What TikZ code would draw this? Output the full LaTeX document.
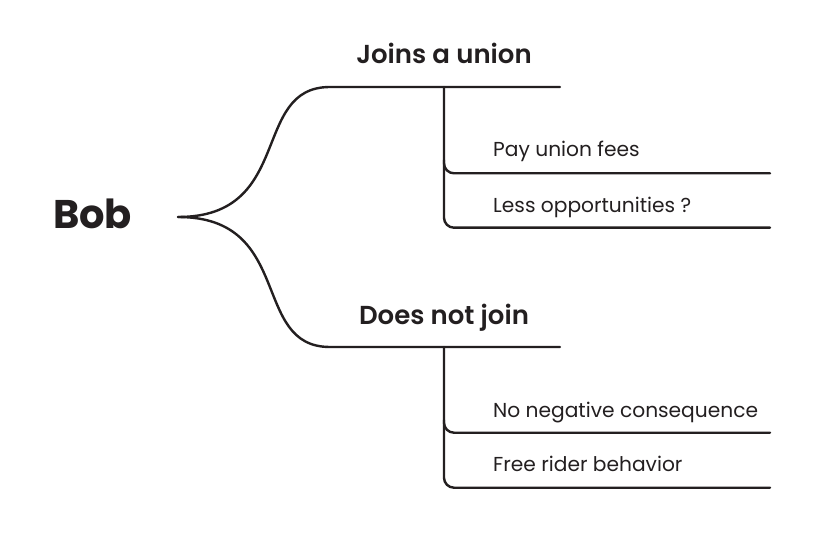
\documentclass[tikz,border=0pt]{standalone}
\usepackage{fontspec}
\setmainfont{Poppins}
\newfontfamily\headfont{Poppins SemiBold}
\begin{document}
\begin{tikzpicture}[x=1pt,y=-1pt,
  wire/.style={draw=ink,line width=2.4pt,line cap=round,line join=round},
  rootlabel/.style={font=\bfseries\fontsize{40}{43}\selectfont,text=ink,inner sep=0pt,anchor=base},
  branchlabel/.style={font=\headfont\fontsize{26}{29}\selectfont,text=ink,inner sep=0pt,anchor=base},
  leaflabel/.style={font=\fontsize{20.2}{23}\selectfont,text=ink,inner sep=0pt,anchor=base west}]
\definecolor{ink}{HTML}{231F20}
\useasboundingbox (0,0) rectangle (819,537);
\fill[white] (0,0) rectangle (819,537);

% root
\node[rootlabel] (bob) at (92.5,229) {Bob};
\coordinate (root) at (178,217);

% branch ends
\coordinate (joinA) at (330,87);  \coordinate (joinB) at (560,87);
\coordinate (notA)  at (330,347); \coordinate (notB)  at (560,347);

\node[branchlabel] (join) at (444,64) {Joins a union};
\node[branchlabel] (notjoin) at (444,324) {Does not join};

% curved stems from the root
\draw[wire] (root) .. controls (295,217) and (250,87) .. (joinA) -- (joinB);
\draw[wire] (root) .. controls (295,217) and (250,347) .. (notA) -- (notB);

% leaves
\node[leaflabel] (fees) at (493,157) {Pay union fees};
\node[leaflabel] (less) at (493,212.7) {Less opportunities ?};
\node[leaflabel] (nocons) at (493,417) {No negative consequence};
\node[leaflabel] (rider) at (493,471.7) {Free rider behavior};

\coordinate (j0) at (444,87);
\coordinate (j1) at (770,173.3);
\coordinate (j2) at (770,227.7);
\coordinate (n0) at (444,347);
\coordinate (n1) at (770,432.7);
\coordinate (n2) at (770,487.7);

\draw[wire,rounded corners=10pt] (j0) |- (j2);
\draw[wire,rounded corners=10pt] (444,160) |- (j1);
\draw[wire,rounded corners=10pt] (n0) |- (n2);
\draw[wire,rounded corners=10pt] (444,420) |- (n1);
\end{tikzpicture}
\end{document}
